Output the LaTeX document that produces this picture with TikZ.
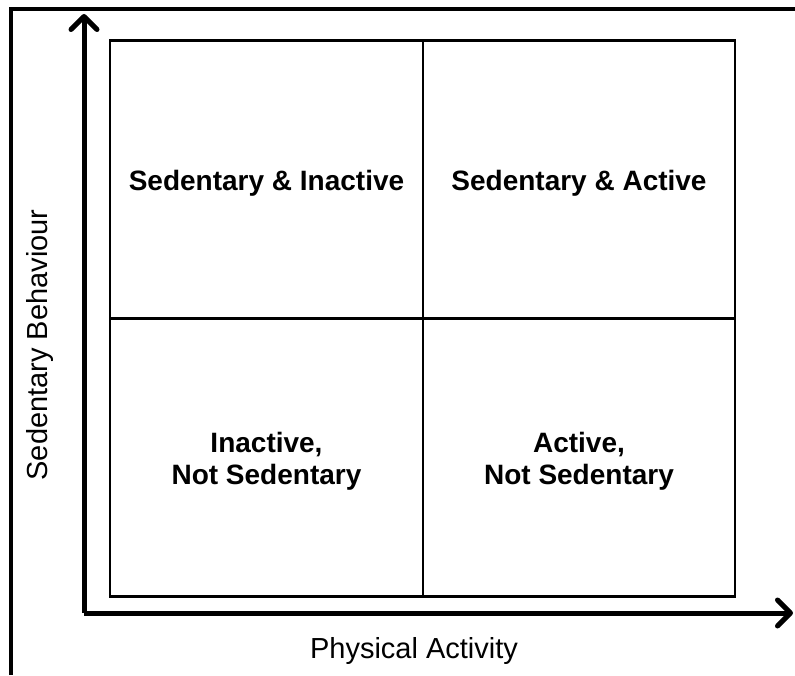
\documentclass[tikz,border=0pt]{standalone}
\usepackage{fontspec}
\setmainfont{Liberation Sans}
\usetikzlibrary{arrows.meta}

\tikzset{
  cell/.style={draw, line width=2.2pt, minimum width=312.5pt, minimum height=278pt, inner sep=0pt},
  celltext/.style={align=center, font=\fontsize{28}{32}\selectfont\bfseries, yshift=-4pt},
  axis/.style={line width=5pt, -{Straight Barb[length=13pt, width=26pt, line width=5pt, round]}},
  axislabel/.style={font=\fontsize{29}{32}\selectfont}
}

\begin{document}
\begin{tikzpicture}[x=1pt, y=1pt]
\useasboundingbox (0,0) rectangle (795,675);

% Outer frame (top and left only)
\draw[line width=3.2pt] (11,0) -- (11,666) -- (795,666);

% Set the quadrants
\node[cell] (sedinact) at (266.5,495.5) {};
\node[cell] (sedact) at (579,495.5) {};
\node[cell] (inact) at (266.5,217.5) {};
\node[cell] (act) at (579,217.5) {};

% Insert the labels
\node[celltext] (sedinacttext) at (sedinact.center) {Sedentary \& Inactive};
\node[celltext] (sedacttext) at (sedact.center) {Sedentary \& Active};
\node[celltext] (inacttext) at (inact.center) {Inactive,\\Not Sedentary};
\node[celltext] (acttext) at (act.center) {Active,\\Not Sedentary};

% Draw the axes
\coordinate (origin) at (84,62);
\coordinate (ytip) at (84,661);
\coordinate (xtip) at (793,62);
\draw[axis] (origin) -- (ytip);
\draw[axis] (origin) -- (xtip);

\node[axislabel] (xlabel) at (414,24) {Physical Activity};
\node[axislabel, rotate=90] (ylabel) at (40,330) {Sedentary Behaviour};
\end{tikzpicture}
\end{document}
